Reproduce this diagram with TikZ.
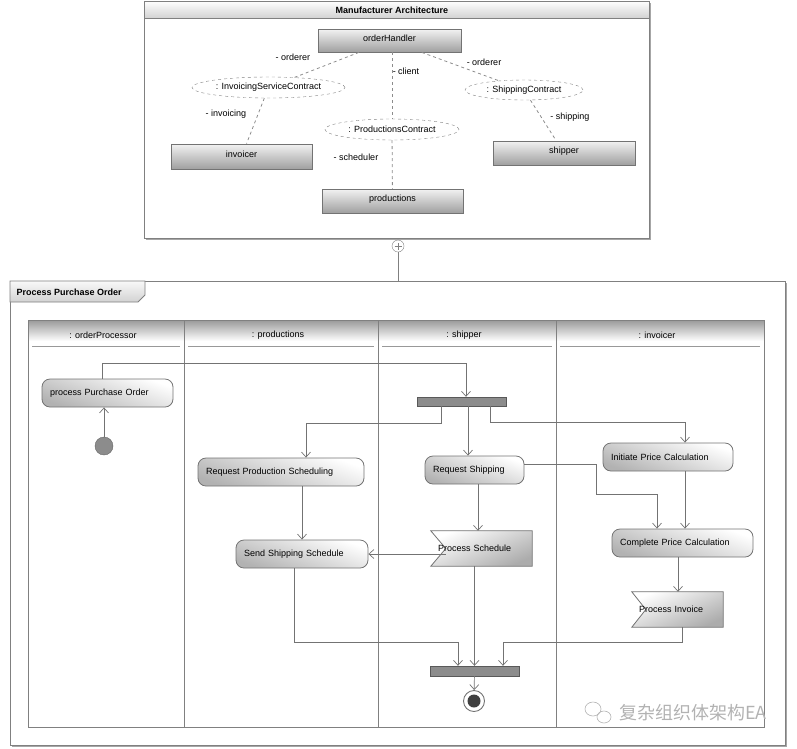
\documentclass[tikz,border=0pt]{standalone}
\usepackage{fontspec}
\setmainfont{Liberation Sans}
\newfontfamily\cjkfont{Noto Sans CJK SC}
\usepackage{tikz}
\usetikzlibrary{arrows.meta,backgrounds,calc,shapes.geometric}
\pgfdeclarelayer{background}
\pgfsetlayers{background,main}

\begin{document}
\begin{tikzpicture}[x=1pt, y=-1pt, >={Straight Barb[length=5pt, width=9pt]},
        font=\fontsize{9}{10.8}\selectfont,
        title/.style={font=\fontsize{9}{10.8}\selectfont\bfseries},
        frame/.style={draw=black!50, line width=0.8pt},
        part/.style={rectangle, draw=black!55, line width=0.8pt, top color=gray!10, bottom color=gray!75, inner sep=0pt, text height=6.5pt, text depth=5pt},
        contract/.style={ellipse, draw=black!50, dashed, fill=white, inner sep=0pt},
        link/.style={draw=black!45, dashed, line width=0.8pt},
        action/.style={rectangle, rounded corners=8pt, draw=black!55, line width=0.8pt, top color=white, bottom color=gray!60, shading angle=-20, inner ysep=0pt, inner xsep=8pt, minimum height=28pt, text width=#1, align=left},
        signal/.style={draw=black!55, line width=0.8pt, top color=white, bottom color=gray!65, shading angle=25},
        signaltext/.style={inner ysep=0pt, inner xsep=7pt, minimum height=35pt, text width=#1, align=left},
        bar/.style={rectangle, draw=black!65, fill=black!45, inner sep=0pt, minimum width=89pt, minimum height=9pt},
        flow/.style={->, draw=black!55, line width=0.7pt}
    ]
    \useasboundingbox (0,0) rectangle (797,748);

    % Manufacturer Architecture
    \draw[frame] (144,1) rectangle (649,238);
    \draw[black!35, line width=1.5pt] (650.5,3) -- (650.5,239.5) -- (146,239.5);
    \draw[frame, top color=white, bottom color=gray!35] (144,1) rectangle (649,18);
    \node[title] (arch) at (392,10) {Manufacturer Architecture};

    \node[part, minimum width=143pt, minimum height=23pt] (handler) at (389.5,40.5) {orderHandler};
    \node[part, minimum width=141pt, minimum height=25pt] (invoicer) at (241.5,156.5) {invoicer};
    \node[part, minimum width=141pt, minimum height=24pt] (productions) at (392.5,201) {productions};
    \node[part, minimum width=142pt, minimum height=24pt] (shipper) at (564,153) {shipper};

    \node[contract, minimum width=153pt, minimum height=21pt] (isc) at (268.5,87.5) {: InvoicingServiceContract};
    \node[contract, minimum width=134pt, minimum height=21pt] (pc) at (392,129.5) {: ProductionsContract};
    \node[contract, minimum width=118pt, minimum height=20pt] (sc) at (524,90) {: ShippingContract};

    \draw[link] (handler) -- (isc);
    \draw[link] (handler.south -| pc) -- (pc);
    \draw[link] (handler) -- (sc);
    \draw[link] (isc) -- (invoicer);
    \draw[link] (pc) -- (productions);
    \draw[link] (sc) -- (shipper);

    \node (ordererL) at (293,57) {- orderer};
    \node (client) at (406,71) {- client};
    \node (ordererR) at (484,62) {- orderer};
    \node (invoicing) at (226,114) {- invoicing};
    \node (scheduler) at (356,157) {- scheduler};
    \node (shipping) at (570,117) {- shipping};

    % nesting
    \coordinate (activitytop) at (398,281);
    \node[circle, draw=black!50, fill=white, minimum size=12pt, inner sep=0pt] (nest) at (398,246) {};
    \draw[black!50, line width=0.8pt] ([yshift=-3.5pt]nest.center) -- ([yshift=3.5pt]nest.center)
        ([xshift=-3.5pt]nest.center) -- ([xshift=3.5pt]nest.center);
    \draw[black!50, line width=0.8pt] (nest) -- (activitytop);

    % Process Purchase Order
    \draw[frame] (10,281) rectangle (785,745);
    \draw[black!35, line width=1.5pt] (786.5,283) -- (786.5,746.5) -- (12,746.5);
    \draw[frame, top color=gray!5, bottom color=gray!35] (10,281) -- (145,281) -- (145,295) -- (138,302) -- (10,302) -- cycle;
    \node[title, anchor=west] (activity) at (13,292) {Process Purchase Order};

    % swimlanes
    \fill[top color=black!40, bottom color=white] (28,320) rectangle (764,341);
    \draw[frame] (28,320) rectangle (764,727);
    \foreach \x in {184,378,556}
        \draw[frame] (\x,320) -- (\x,727);
    \foreach \a/\b in {28/184,184/378,378/556,556/764}
        \draw[black!40, line width=1pt] (\a+4,346) -- (\b-4,346);
    \node (laneorder) at (103,335) {: orderProcessor};
    \node (laneprod) at (278,335) {: productions};
    \node (laneship) at (464,335) {: shipper};
    \node (laneinv) at (657,335) {: invoicer};

    % actions
    \node[action=115pt] (ppo) at (107.5,393) {process Purchase Order};
    \node[circle, fill=black!45, draw=black!60, minimum size=18pt, inner sep=0pt] (init) at (104,446) {};
    \node[bar] (fork) at (461.5,401.5) {};
    \node[action=150pt] (rps) at (281,472) {Request Production Scheduling};
    \node[action=116pt] (sss) at (302,554) {Send Shipping Schedule};
    \node[action=83pt] (rs) at (474.5,470) {Request Shipping};
    \node[action=114pt] (ipc) at (668,457) {Initiate Price Calculation};
    \node[action=125pt] (cpc) at (682.5,543) {Complete Price Calculation};
    \node[signaltext=87pt] (ps) at (481.5,548.5) {Process Schedule};
    \node[signaltext=77pt] (pi) at (677.5,609.5) {Process Invoice};
    \begin{scope}[on background layer]
        \draw[signal] (ps.north west) -- (ps.north east) -- (ps.south east) -- (ps.south west) -- ([xshift=15pt]ps.west) -- cycle;
        \draw[signal] (pi.north west) -- (pi.north east) -- (pi.south east) -- (pi.south west) -- ([xshift=14pt]pi.west) -- cycle;
    \end{scope}
    \node[bar, minimum height=10pt] (join) at (474.5,671) {};
    \node[circle, draw=black!55, fill=white, line width=0.9pt, minimum size=21pt, inner sep=0pt] (final) at (474,701) {};
    \fill[black!75] (final) circle (6.5pt);

    % flows
    \draw[flow] (init) -- (init |- ppo.south);
    \draw[flow] ([xshift=-5.5pt]ppo.north) -- ++(0,-15) -| ([xshift=4.5pt]fork.north);
    \draw[flow] ([xshift=-20.5pt]fork.south) -- ++(0,17) -| ([xshift=25pt]rps.north);
    \draw[flow] ([xshift=6.5pt]fork.south) -- ([xshift=6.5pt]fork.south |- rs.north);
    \draw[flow] ([xshift=28.5pt]fork.south) -- ++(0,16) -| ([xshift=17pt]ipc.north);
    \draw[flow] (sss.north |- rps.south) -- (sss.north);
    \draw[flow] ([xshift=3.5pt]rs.south) -- ([xshift=3.5pt]rs.south |- ps.north);
    \draw[flow] ([xshift=15pt]ps.west |- sss.east) -- (sss.east);
    \draw[flow] ([xshift=17pt]ipc.south) -- ([xshift=17pt]ipc.south |- cpc.north);
    \draw[flow] ([yshift=6pt]rs.east) -| ++(72,30) -| ([xshift=-25.5pt]cpc.north);
    \draw[flow] ([xshift=-4.5pt]cpc.south) -- ([xshift=-4.5pt]cpc.south |- pi.north);
    \draw[flow] ([xshift=-8pt]sss.south) -- ++(0,74) -| ([xshift=-16.5pt]join.north);
    \draw[flow] (join.north |- ps.south) -- (join.north);
    \draw[flow] ([xshift=4.5pt]pi.south) -- ++(0,15) -| ([xshift=28.5pt]join.north);
    \draw[flow] (join) -- (final);

    % watermark
    \draw[gray!60, line width=0.6pt] (593,709) ellipse (8pt and 7pt);
    \draw[gray!60, line width=0.6pt] (604,717) ellipse (7pt and 6pt);
    \node[font=\cjkfont\fontsize{18}{18}\selectfont, text=gray!60] (mark) at (693,713) {复杂组织体架构EA};
\end{tikzpicture}
\end{document}
